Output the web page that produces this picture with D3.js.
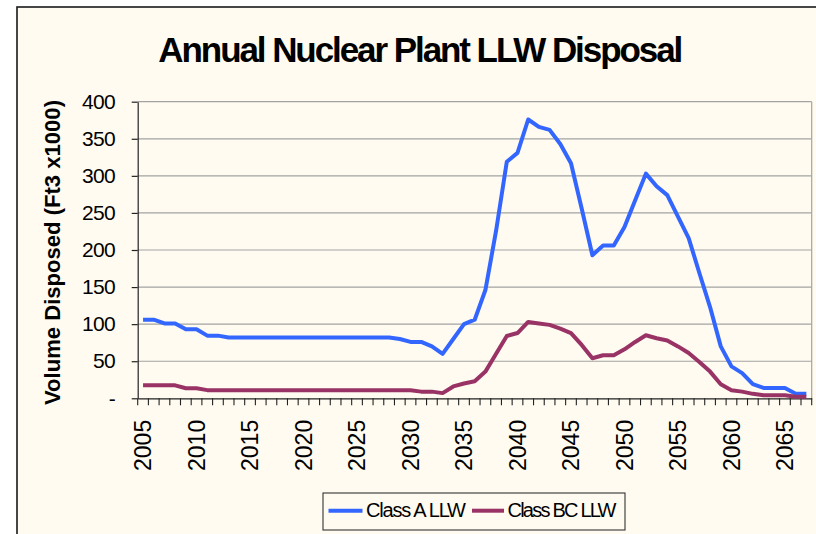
<!DOCTYPE html>
<html>
<head>
<meta charset="utf-8">
<script src="https://cdn.jsdelivr.net/npm/d3@7"></script>
<style>
  html, body { margin: 0; padding: 0; background: #ffffff; }
  svg { display: block; }
  text { font-family: "Liberation Sans", Arial, sans-serif; fill: #000; }
</style>
</head>
<body>
<svg id="chart" width="816" height="534"></svg>
<script>
// ---- data ----
const years = [2005,2006,2007,2008,2009,2010,2011,2012,2013,2014,2015,2016,2017,2018,2019,2020,
  2021,2022,2023,2024,2025,2026,2027,2028,2029,2030,2031,2032,2033,2034,2035,2036,2037,2038,2039,
  2040,2041,2042,2043,2044,2045,2046,2047,2048,2049,2050,2051,2052,2053,2054,2055,2056,2057,2058,
  2059,2060,2061,2062,2063,2064,2065,2066,2067];
const classA = [106,106,101,101,93,93,84.5,84.5,82,82,82,82,82,82,82,82,
  82,82,82,82,82,82,82,82,80,76,76,70,60,80,100,106,146,226,319,
  331,376,366,362,343,317,256,193,206,206,231,267,303,286,274,245,216,169,123,
  70,43,34,19,14,14,14,6,6];
const classBC = [17.5,17.5,17.5,17.5,13.5,13.5,11,11,11,11,11,11,11,11,11,11,
  11,11,11,11,11,11,11,11,11,11,9,9,7,16,20,23,36,60,84,
  88,103,101,99,94,88,72,54,58,58,66,76,85,81,78,70,61,49,36,
  19,11,9,6,4,4,4,2,2];
const yTicks = [0,50,100,150,200,250,300,350,400];
const xLabelYears = [2005,2010,2015,2020,2025,2030,2035,2040,2045,2050,2055,2060,2065];
const seriesNames = ["Class A LLW", "Class BC LLW"];
const seriesColors = ["#3366FF", "#993366"];
const title = "Annual Nuclear Plant LLW Disposal";
const yTitle = "Volume Disposed (Ft3 x1000)";

// ---- layout ----
const svg = d3.select("#chart");
const bg = "#FFFBF0";
const plot = { left: 137.7, right: 811.7, top: 101.7, bottom: 398.3 };

// chart area border / background
svg.append("rect").attr("x", 17).attr("y", 7).attr("width", 830).attr("height", 560)
  .attr("fill", bg).attr("stroke", "#1a1a1a").attr("stroke-width", 1.6);

const x = d3.scaleBand().domain(years).range([plot.left, plot.right]).padding(0);
const y = d3.scaleLinear().domain([0, 400]).range([plot.bottom, plot.top]);

// gridlines
svg.append("g").selectAll("line").data(yTicks.filter(d => d > 0)).join("line")
  .attr("x1", plot.left).attr("x2", plot.right)
  .attr("y1", d => y(d)).attr("y2", d => y(d))
  .attr("stroke", "#A3A3A3").attr("stroke-width", 1.2);
// plot area right border
svg.append("line").attr("x1", plot.right).attr("x2", plot.right)
  .attr("y1", plot.top).attr("y2", plot.bottom)
  .attr("stroke", "#A3A3A3").attr("stroke-width", 1.2);

// y axis
const yAxis = d3.axisLeft(y).tickValues(yTicks)
  .tickFormat(d => d === 0 ? "-" : d).tickSize(6).tickSizeOuter(0).tickPadding(16.5);
const gy = svg.append("g").attr("transform", `translate(${plot.left},0)`).call(yAxis);
gy.selectAll("path, line").attr("stroke", "#222").attr("stroke-width", 1.2);
gy.selectAll("text").attr("font-size", 21).attr("font-family", "Liberation Sans, Arial, sans-serif")
  .attr("fill", "#000").attr("letter-spacing", -0.6);

// x axis: category boundary ticks
const tickPos = years.map(d => x(d)).concat([x(years[years.length - 1]) + x.bandwidth()]);
svg.append("g").selectAll("line").data(tickPos).join("line")
  .attr("x1", d => d).attr("x2", d => d)
  .attr("y1", plot.bottom).attr("y2", plot.bottom + 7)
  .attr("stroke", "#222").attr("stroke-width", 1.1);
const xAxis = d3.axisBottom(x).tickValues(xLabelYears).tickSize(0).tickSizeOuter(0);
const gx = svg.append("g").attr("transform", `translate(0,${plot.bottom})`).call(xAxis);
gx.select(".domain").attr("stroke", "#222").attr("stroke-width", 1.2);
gx.selectAll("text")
  .attr("font-size", 23).attr("font-family", "Liberation Sans, Arial, sans-serif").attr("fill", "#000")
  .attr("text-anchor", "end")
  .attr("transform", "rotate(-90)")
  .attr("x", -21.5).attr("y", 0).attr("dy", "0.36em");

// lines
const line = d3.line().x((d, i) => x(years[i]) + x.bandwidth() / 2).y(d => y(d));
[classA, classBC].forEach((s, k) => {
  svg.append("path").datum(s).attr("d", line)
    .attr("fill", "none").attr("stroke", seriesColors[k]).attr("stroke-width", 4)
    .attr("stroke-linejoin", "round").attr("stroke-linecap", "butt");
});

// title
svg.append("text").attr("x", 158.3).attr("y", 61.7)
  .attr("font-size", 35).attr("font-weight", "bold")
  .attr("textLength", 525).attr("lengthAdjust", "spacing")
  .text(title);

// y title
svg.append("text").attr("transform", "translate(60,252.5) rotate(-90)")
  .attr("text-anchor", "middle").attr("font-size", 22).attr("font-weight", "bold")
  .attr("textLength", 305).attr("lengthAdjust", "spacingAndGlyphs")
  .text(yTitle);

// legend
const lg = svg.append("g");
lg.append("rect").attr("x", 323).attr("y", 493).attr("width", 302).attr("height", 37)
  .attr("fill", bg).attr("stroke", "#333").attr("stroke-width", 1.1);
const legendItems = [
  { lx1: 328.5, lx2: 362.5, tx: 366, tl: 100 },
  { lx1: 472, lx2: 504, tx: 507.5, tl: 109 }
];
legendItems.forEach((it, k) => {
  lg.append("line").attr("x1", it.lx1).attr("x2", it.lx2).attr("y1", 510.7).attr("y2", 510.7)
    .attr("stroke", seriesColors[k]).attr("stroke-width", 4);
  lg.append("text").attr("x", it.tx).attr("y", 516.5).attr("font-size", 20)
    .attr("textLength", it.tl).attr("lengthAdjust", "spacing")
    .text(seriesNames[k]);
});
</script>
</body>
</html>
